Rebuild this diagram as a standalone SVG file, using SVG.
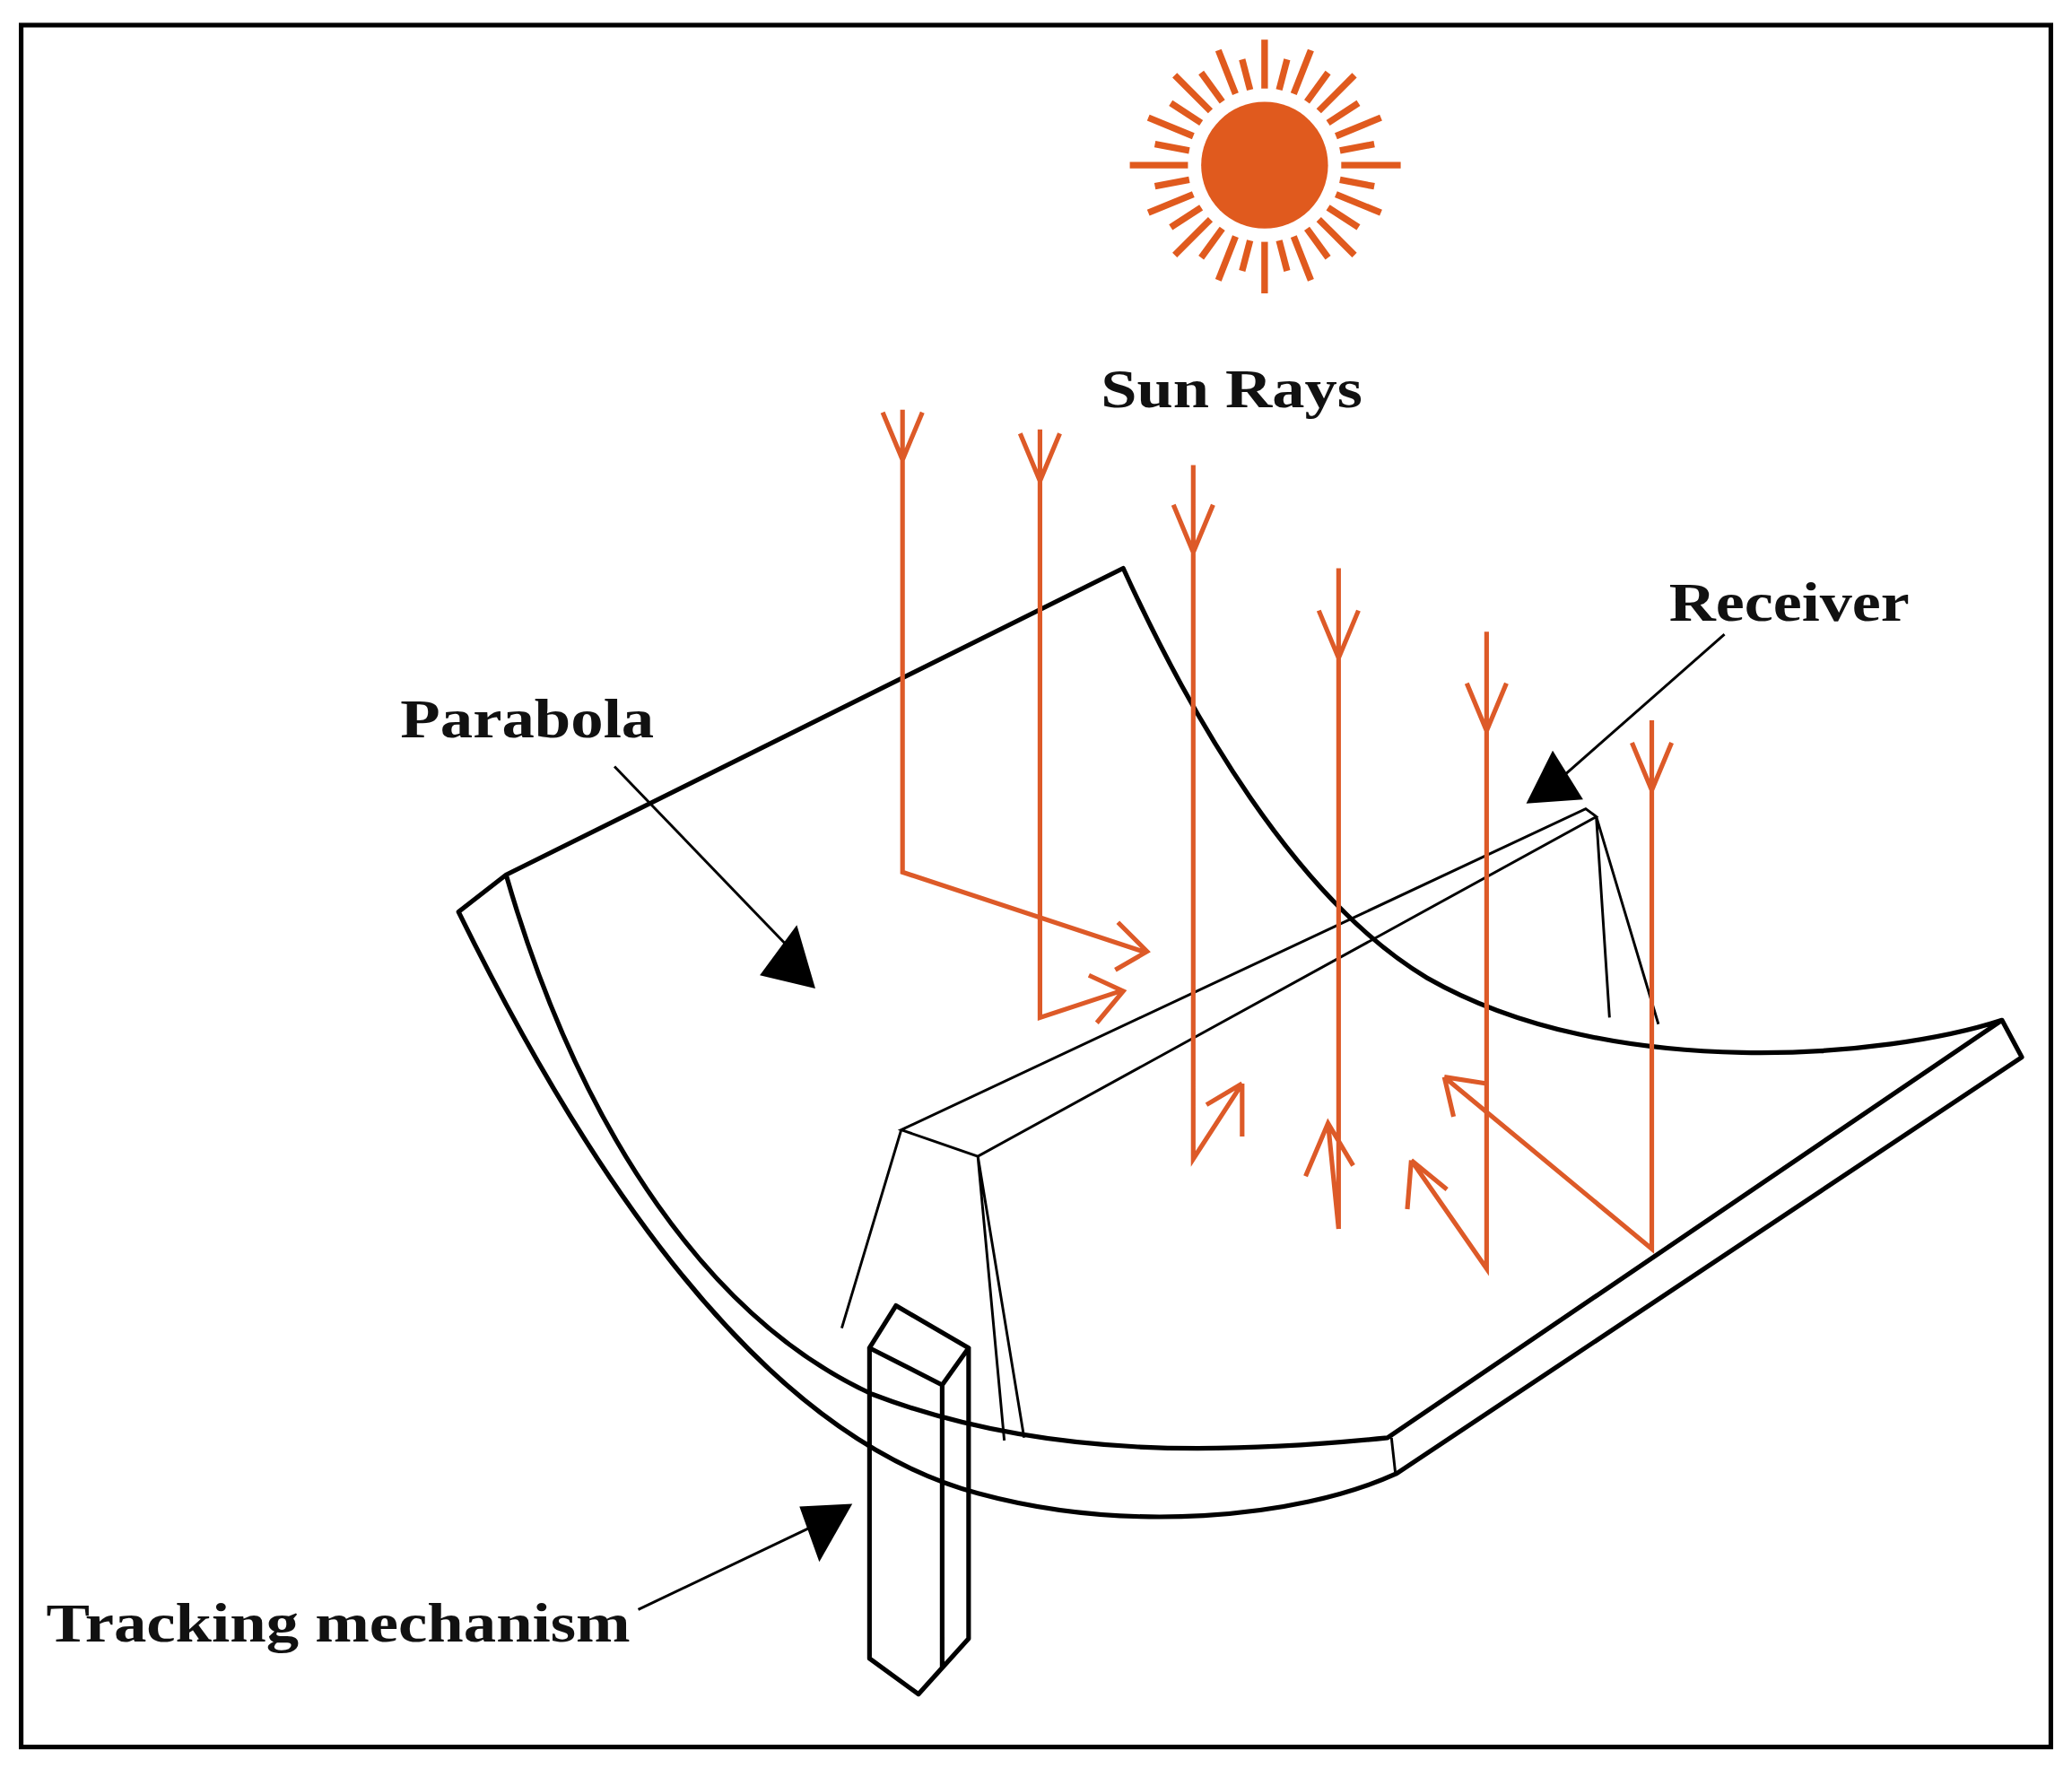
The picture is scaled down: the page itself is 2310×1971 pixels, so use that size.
<svg xmlns="http://www.w3.org/2000/svg" width="2310" height="1971" viewBox="0 0 2310 1971">
<style>
.k{fill:none;stroke:#000;stroke-width:3.5;stroke-linejoin:round}
.t{fill:none;stroke:#000;stroke-width:2}
.o{fill:none;stroke:#DD5A28;stroke-width:3.5;stroke-linejoin:miter}
.lb{font-family:"Liberation Serif",serif;font-weight:bold;font-size:42px;fill:#111}
.h{fill:#000}
</style>
<rect width="2310" height="1971" fill="#fff"/>
<g transform="scale(1.47321)">
<rect x="16" y="19" width="1536" height="1303" fill="none" stroke="#000" stroke-width="3.5"/>
<g id="sun">
<circle cx="957" cy="125" r="48" fill="#E05A1E"/>
<g stroke="#E05A1E" stroke-width="5">
<line x1="957" y1="67" x2="957" y2="30"/><line x1="957" y1="183" x2="957" y2="222"/>
<line x1="899" y1="125" x2="855" y2="125"/><line x1="1015" y1="125" x2="1060" y2="125"/>
<line x1="998" y1="84" x2="1025" y2="57"/><line x1="916" y1="84" x2="889" y2="57"/>
<line x1="998" y1="166" x2="1025" y2="193"/><line x1="916" y1="166" x2="889" y2="193"/>
<line x1="979" y1="71" x2="992" y2="38"/><line x1="935" y1="71" x2="922" y2="38"/>
<line x1="979" y1="179" x2="992" y2="212"/><line x1="935" y1="179" x2="922" y2="212"/>
<line x1="1011" y1="103" x2="1045" y2="89"/><line x1="903" y1="103" x2="869" y2="89"/>
<line x1="1011" y1="147" x2="1045" y2="161"/><line x1="903" y1="147" x2="869" y2="161"/>
<line x1="968" y1="68" x2="974" y2="45"/><line x1="946" y1="68" x2="940" y2="45"/>
<line x1="968" y1="182" x2="974" y2="205"/><line x1="946" y1="182" x2="940" y2="205"/>
<line x1="989" y1="77" x2="1005" y2="55"/><line x1="925" y1="77" x2="909" y2="55"/>
<line x1="989" y1="173" x2="1005" y2="195"/><line x1="925" y1="173" x2="909" y2="195"/>
<line x1="1005" y1="93" x2="1028" y2="78"/><line x1="909" y1="93" x2="886" y2="78"/>
<line x1="1005" y1="157" x2="1028" y2="172"/><line x1="909" y1="157" x2="886" y2="172"/>
<line x1="1014" y1="114" x2="1040" y2="109"/><line x1="900" y1="114" x2="874" y2="109"/>
<line x1="1014" y1="136" x2="1040" y2="141"/><line x1="900" y1="136" x2="874" y2="141"/>
</g>
</g>
<g id="trough">
<path class="k" d="M383,662 L850,430 C900,540 980,680 1080,740 C1220,820 1430,800 1515,772 L1530,800 L1057,1115 C980,1150 850,1160 740,1130 C590,1090 460,920 347,690 L383,662 C440,860 540,1000 660,1055 C790,1105 930,1100 1050,1088 L1515,772"/>
<line class="t" x1="1053" y1="1088" x2="1056" y2="1115"/>
</g>
<g id="receiver">
<path class="t" d="M682,855 L1200,612 L1208,618 L740,875 Z M682,855 L637,1005 M740,875 L775,1088 M740,875 L760,1090 M1208,618 L1218,770 M1208,618 L1255,775"/>
</g>
<g id="tracking">
<path class="k" d="M658,1020 L678,988 L733,1020 L713,1048 Z M658,1020 L658,1255 L695,1282 L733,1240 L733,1020 M713,1048 L713,1262 L695,1282" stroke-width="3"/>
</g>
<g id="rays">
<path class="o" d="M683,310 V660 L865,720 M846,698 L868,720 L844,734 M668,312 L683,348 L698,312"/>
<path class="o" d="M787,325 V770 L848,750 M824,738 L850,750 L830,774 M772,328 L787,364 L802,328"/>
<path class="o" d="M903,352 V877 L940,820 M940,820 L940,860 M940,820 L913,836 M888,382 L903,418 L918,382"/>
<path class="o" d="M1013,430 V930 M1013,930 L1005,850 M988,890 L1005,850 L1024,882 M998,462 L1013,498 L1028,462"/>
<path class="o" d="M1125,478 V960 L1068,878 M1068,878 L1065,915 M1068,878 L1095,900 M1110,517 L1125,553 L1140,517"/>
<path class="o" d="M1250,545 V945 L1093,815 M1093,815 L1100,845 M1093,815 L1125,820 M1235,562 L1250,598 L1265,562"/>
</g>
<g id="labels">
<text class="lb" x="932" y="308" text-anchor="middle" textLength="198" lengthAdjust="spacingAndGlyphs">Sun Rays</text>
<text class="lb" x="1263" y="470" textLength="182" lengthAdjust="spacingAndGlyphs">Receiver</text>
<text class="lb" x="303" y="558" textLength="192" lengthAdjust="spacingAndGlyphs">Parabola</text>
<text class="lb" x="35" y="1242" textLength="442" lengthAdjust="spacingAndGlyphs">Tracking mechanism</text>
</g>
<g id="pointers">
<line class="t" x1="465" y1="580" x2="595" y2="715"/><polygon class="h" points="575,738 603,700 617,748"/>
<line class="t" x1="1305" y1="480" x2="1180" y2="590"/><polygon class="h" points="1155,608 1175,568 1198,605"/>
<line class="t" x1="483" y1="1218" x2="615" y2="1155"/><polygon class="h" points="620,1182 605,1140 645,1138"/>
</g>
</g>
</svg>
